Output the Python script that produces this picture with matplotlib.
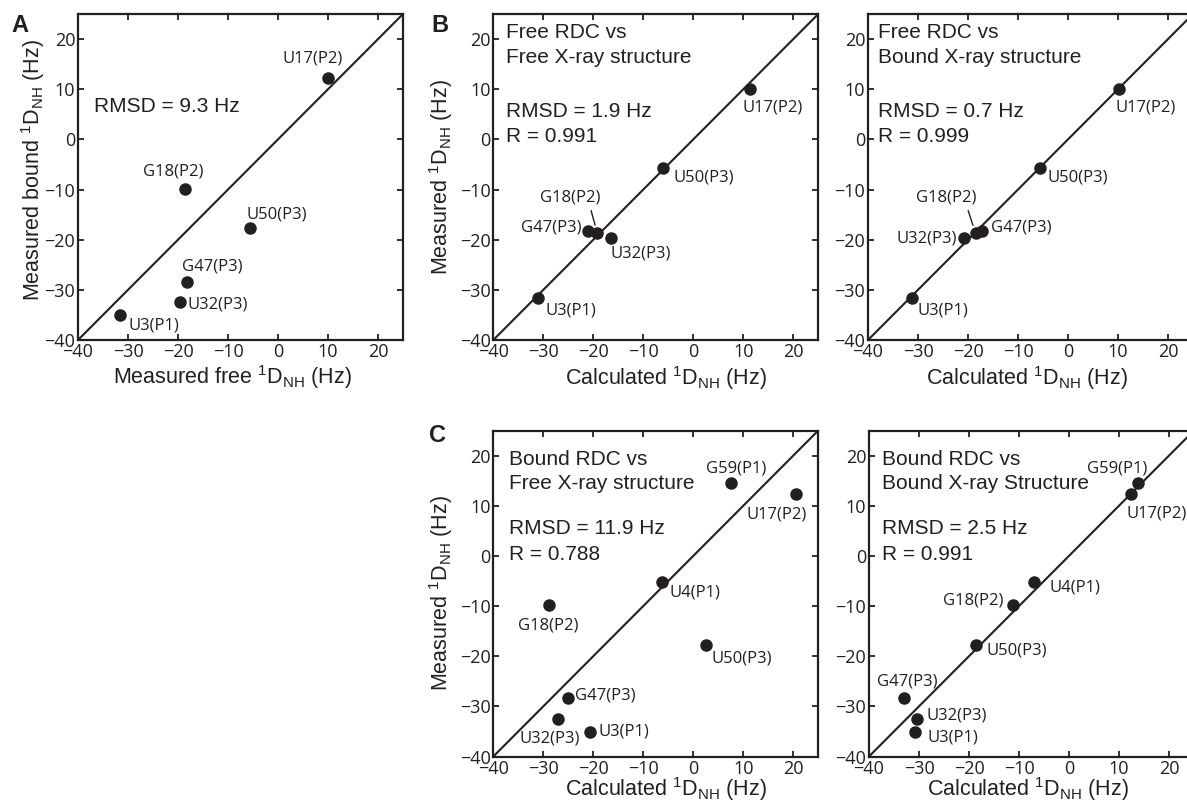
import matplotlib
matplotlib.use("Agg")
import matplotlib.pyplot as plt

# ---- data ----
free_res = ['U3(P1)', 'G18(P2)', 'U17(P2)', 'U32(P3)', 'G47(P3)', 'U50(P3)']
meas_free = [-31.7, -18.7, 10.0, -19.7, -18.2, -5.7]
meas_bound_sub = [-35.0, -9.9, 12.3, -32.4, -28.4, -17.7]   # bound RDC of the same residues
calc_free_xray = [-31.0, -19.2, 11.3, -16.5, -21.1, -6.0]
calc_bound_xray = [-31.3, -18.5, 10.1, -20.9, -17.3, -5.6]

bound_res = ['U3(P1)', 'U4(P1)', 'G18(P2)', 'U17(P2)', 'G59(P1)', 'U32(P3)', 'G47(P3)', 'U50(P3)']
meas_bound = [-35.1, -5.2, -9.8, 12.3, 14.5, -32.5, -28.3, -17.7]
calc_free_xray_b = [-20.7, -6.3, -28.9, 20.5, 7.5, -27.0, -25.1, 2.5]
calc_bound_xray_b = [-30.9, -7.1, -11.3, 12.3, 13.7, -30.5, -33.1, -18.7]

ticks = [-40, -30, -20, -10, 0, 10, 20]
lims = (-40, 25)

# ---- style ----
INK = '#231f20'
W, H = 1187, 807
plt.rcParams['font.family'] = ['Liberation Sans', 'DejaVu Sans']
plt.rcParams['axes.unicode_minus'] = True
LBL_FONT = ['Open Sans', 'DejaVu Sans']

fig = plt.figure(figsize=(W / 100, H / 100), dpi=100)


def make_axes(left, top):
    ax = fig.add_axes([left / W, 1 - (top + 326) / H, 325 / W, 326 / H])
    ax.set_xlim(lims)
    ax.set_ylim(lims)
    ax.set_xticks(ticks)
    ax.set_yticks(ticks)
    ax.tick_params(direction='in', top=True, right=True, length=4, width=1.3,
                   colors=INK, labelsize=13, pad=2.5, labelfontfamily=LBL_FONT)
    ax.tick_params(axis='y', pad=2)
    for s in ax.spines.values():
        s.set_linewidth(1.6)
        s.set_color(INK)
    ax.axline((0, 0), slope=1, color=INK, lw=1.5, zorder=1)
    return ax


def scatter_labels(ax, xs, ys, names, offs, leader=None):
    ax.plot(xs, ys, 'o', ms=8, color=INK, zorder=3, clip_on=False)
    for x, y, n in zip(xs, ys, names):
        dx, dy = offs[n]
        kw = dict(xytext=(dx, dy), textcoords='offset pixels', ha='center', va='center',
                  fontsize=12, family=LBL_FONT, color=INK)
        if leader is not None and n == leader[0]:
            kw['arrowprops'] = dict(arrowstyle='-', color=INK, lw=1.0,
                                    relpos=(leader[1], 0), shrinkA=2, shrinkB=6)
        ax.annotate(n, (x, y), **kw)


def corner_text(ax, lines, dx, ys):
    for t, dy in zip(lines, ys):
        ax.annotate(t, (0, 1), xycoords='axes fraction', xytext=(dx, -dy),
                    textcoords='offset pixels', ha='left', va='center',
                    fontsize=15, color=INK)


def labels(ax, xl, yl, xpos, ypos):
    if xl:
        ax.set_xlabel(xl, fontsize=15.5, color=INK)
        ax.xaxis.label.set_va('center')
        ax.xaxis.set_label_coords(*xpos)
    if yl:
        ax.set_ylabel(yl, fontsize=15.5, color=INK)
        ax.yaxis.label.set_va('center')
        ax.yaxis.set_label_coords(*ypos)


calc_lbl = r'Calculated $\mathregular{^{1}D_{NH}}$ (Hz)'
meas_lbl = r'Measured $\mathregular{^{1}D_{NH}}$ (Hz)'

# ---- panel A ----
axA = make_axes(78, 14)
offA = {'U17(P2)': (-15, 19), 'G18(P2)': (-11, 18), 'U50(P3)': (27, 14),
        'G47(P3)': (25, 15), 'U32(P3)': (38, -3), 'U3(P1)': (34, -11)}
scatter_labels(axA, meas_free, meas_bound_sub, free_res, offA)
corner_text(axA, ['RMSD = 9.3 Hz'], 16, [93])
labels(axA, r'Measured free $\mathregular{^{1}D_{NH}}$ (Hz)',
       r'Measured bound $\mathregular{^{1}D_{NH}}$ (Hz)', (0.475, -0.115), (-0.137, 0.52))

# ---- panel B (free RDC vs free X-ray) ----
axB = make_axes(493.3, 14)
offB = {'U17(P2)': (23, -18), 'U50(P3)': (40, -10), 'G47(P3)': (-37, 3),
        'G18(P2)': (-27, 36), 'U32(P3)': (30, -15), 'U3(P1)': (33, -12)}
scatter_labels(axB, calc_free_xray, meas_free, free_res, offB, leader=('G18(P2)', 0.82))
corner_text(axB, ['Free RDC vs', 'Free X-ray structure', 'RMSD = 1.9 Hz', 'R = 0.991'],
            13, [19, 44, 98, 123])
labels(axB, calc_lbl, meas_lbl, (0.53, -0.118), (-0.16, 0.5))

# ---- panel B right (free RDC vs bound X-ray) ----
axD = make_axes(868, 14)
offD = {'U17(P2)': (27, -18), 'U50(P3)': (38, -10), 'G18(P2)': (-29, 36),
        'G47(P3)': (40, 3), 'U32(P3)': (-37, 0), 'U3(P1)': (31, -12)}
scatter_labels(axD, calc_bound_xray, meas_free, free_res, offD, leader=('G18(P2)', 0.83))
corner_text(axD, ['Free RDC vs', 'Bound X-ray structure', 'RMSD = 0.7 Hz', 'R = 0.999'],
            10, [19, 44, 98, 123])
labels(axD, calc_lbl, None, (0.49, -0.118), None)

# ---- panel C (bound RDC vs free X-ray) ----
axC = make_axes(493.3, 430.5)
offC = {'G59(P1)': (5, 15), 'U17(P2)': (-19, -20), 'U4(P1)': (33, -11),
        'G18(P2)': (-1, -20), 'U50(P3)': (36, -14), 'G47(P3)': (37, 2),
        'U32(P3)': (-9, -20), 'U3(P1)': (34, 0)}
scatter_labels(axC, calc_free_xray_b, meas_bound, bound_res, offC)
corner_text(axC, ['Bound RDC vs', 'Free X-ray structure', 'RMSD = 11.9 Hz', 'R = 0.788'],
            16, [29, 53, 98, 124])
labels(axC, calc_lbl, meas_lbl, (0.53, -0.1), (-0.16, 0.5))

# ---- panel C right (bound RDC vs bound X-ray) ----
axE = make_axes(869, 430.5)
offE = {'G59(P1)': (-20, 15), 'U17(P2)': (26, -19), 'U4(P1)': (41, -6),
        'G18(P2)': (-39, 5), 'U50(P3)': (41, -6), 'G47(P3)': (4, 16),
        'U32(P3)': (40, 3), 'U3(P1)': (38, -6)}
scatter_labels(axE, calc_bound_xray_b, meas_bound, bound_res, offE)
corner_text(axE, ['Bound RDC vs', 'Bound X-ray Structure', 'RMSD = 2.5 Hz', 'R = 0.991'],
            13, [29, 53, 98, 124])
labels(axE, calc_lbl, None, (0.49, -0.1), None)

# ---- panel letters ----
for letter, px, py in [('A', 11, 25), ('B', 431, 25), ('C', 429, 436)]:
    fig.text(px / W, 1 - py / H, letter, fontsize=17, fontweight='bold',
             color=INK, ha='left', va='center')

fig.savefig('out.png', dpi=100)
